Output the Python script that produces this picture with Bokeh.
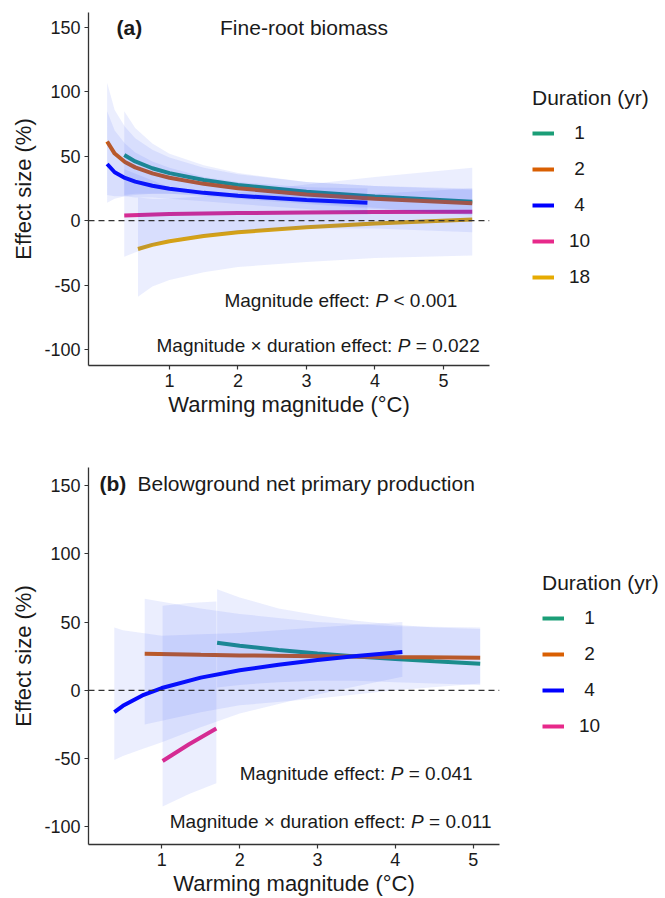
from bokeh.plotting import figure
from bokeh.models import Range1d, Span, Label, Legend, LegendItem, FixedTicker
from bokeh.layouts import column
from bokeh.embed import file_html
from bokeh.resources import INLINE

FONT = "Liberation Sans"

# ---------------- Panel (a): Fine-root biomass ----------------
a1_x = [0.34, 0.5, 0.75, 1.0, 1.5, 2.0, 3.0, 4.0, 5.42]
a1_y = [51.0, 46.0, 40.7, 36.9, 31.6, 27.8, 22.5, 18.7, 14.7]
a1_lo = [20, 21, 21, 21, 20, 18, 14, 10, 4]
a1_hi = [85, 72, 60, 52, 43, 37, 30, 27, 25]

a2_x = [0.09, 0.2, 0.35, 0.5, 0.75, 1.0, 1.5, 2.0, 3.0, 4.0, 5.42]
a2_y = [61.5, 52.1, 45.6, 41.4, 36.7, 33.3, 28.6, 25.2, 20.4, 17.1, 13.5]
a2_lo = [14, 17, 19, 20, 21, 21, 19, 17, 13, 9, 5]
a2_hi = [107, 86, 73, 64, 55, 49, 41, 36, 30, 27, 24]

a4_x = [0.09, 0.2, 0.35, 0.5, 0.75, 1.0, 1.5, 2.0, 3.0, 3.89]
a4_y = [44.0, 37.6, 33.2, 30.3, 27.1, 24.8, 21.6, 19.3, 16.0, 14.0]
a4_lo = [20, 19, 19, 18, 18, 17, 15, 13, 9, 5]
a4_hi = [85, 70, 60, 53, 46, 41, 34, 30, 26, 25]

a10_x = [0.34, 1.0, 2.0, 3.0, 4.0, 5.42]
a10_y = [4.0, 5.2, 5.9, 6.4, 6.7, 7.0]
a10_lo = [-28, -14, -8, -6, -6, -9]
a10_hi = [40, 26, 21, 20, 21, 25]

a18_x = [0.54, 0.75, 1.0, 1.5, 2.0, 3.0, 4.0, 5.42]
a18_y = [-22.0, -18.8, -15.9, -11.9, -9.0, -5.0, -2.1, 1.0]
a18_lo = [-59, -51, -46, -40, -36, -32, -29, -27]
a18_hi = [18, 17, 17, 19, 22, 28, 34, 41]

# ---------------- Panel (b): Belowground NPP ----------------
b1_x = [1.71, 2.0, 2.5, 3.0, 3.5, 4.0, 4.5, 5.09]
b1_y = [34.9, 32.7, 29.6, 27.0, 24.8, 23.0, 21.3, 19.5]
b1_lo = [2, 4, 6, 7, 7, 6, 5, 4]
b1_hi = [74, 68, 60, 55, 51, 48, 46, 45]

b2_x = [0.78, 1.5, 2.0, 3.0, 4.0, 5.09]
b2_y = [26.8, 26.0, 25.6, 25.0, 24.4, 23.9]
b2_lo = [-25, -16, -11, -6, 0, 5]
b2_hi = [67, 60, 56, 50, 47, 46]

b4_x = [0.39, 0.5, 0.75, 1.0, 1.5, 2.0, 2.5, 3.0, 3.5, 4.09]
b4_y = [-15.9, -11.3, -3.7, 1.7, 9.3, 14.7, 18.8, 22.2, 25.1, 28.0]
b4_lo = [-51, -48, -43, -38, -27, -17, -10, -3, 3, 10]
b4_hi = [46, 44, 42, 40, 41, 42, 44, 46, 48, 50]

b10_x = [1.01, 1.35, 1.70]
b10_y = [-51.7, -39.5, -28.0]
b10_lo = [-85, -76, -68]
b10_hi = [62, 64, 65]

durations_a = ["1", "2", "4", "10", "18"]
durations_b = ["1", "2", "4", "10"]
NBSP = "\u00a0"
legend_labels = {"1": NBSP + "1", "2": NBSP + "2", "4": NBSP + "4", "10": "10", "18": "18"}
colors = {"1": "#1B9E77", "2": "#D95F02", "4": "#0000FF", "10": "#E7298A", "18": "#E6AB02"}

x_ticks = [1, 2, 3, 4, 5]
y_ticks = [-100, -50, 0, 50, 100, 150]
y_tick_labels = ["-100", "-50", "0", "50", "100", "150"]

series_a = {
    "1": (a1_x, a1_y, a1_lo, a1_hi),
    "2": (a2_x, a2_y, a2_lo, a2_hi),
    "4": (a4_x, a4_y, a4_lo, a4_hi),
    "10": (a10_x, a10_y, a10_lo, a10_hi),
    "18": (a18_x, a18_y, a18_lo, a18_hi),
}
series_b = {
    "1": (b1_x, b1_y, b1_lo, b1_hi),
    "2": (b2_x, b2_y, b2_lo, b2_hi),
    "4": (b4_x, b4_y, b4_lo, b4_hi),
    "10": (b10_x, b10_y, b10_lo, b10_hi),
}

# Arial / Liberation Sans advance widths (per em)
W = {" ": .278, "M": .833, "a": .556, "g": .556, "n": .556, "i": .222, "t": .278,
     "u": .556, "d": .556, "e": .556, "f": .278, "c": .5, ":": .278, "×": .584,
     "r": .333, "o": .556, "P": .667, "<": .584, "=": .584, ".": .278}


def tw(s, size):
    return sum(W.get(ch, .556) for ch in s) * size


TXT = "#1a1a1a"
ANN = 19


def add_pvalue(p, x, y, head, tail):
    # head ends with a space, tail starts after one space (SVG collapses edge spaces)
    l1 = Label(x=x, y=y, text=head.rstrip(), text_font=FONT, text_font_size=f"{ANN}px",
               text_color=TXT, text_baseline="alphabetic")
    off = tw(head, ANN)
    l2 = Label(x=x, y=y, x_offset=off, text="P", text_font=FONT, text_font_size=f"{ANN}px",
               text_font_style="italic", text_color=TXT, text_baseline="alphabetic")
    off2 = off + tw("P", ANN) + tw(" ", ANN)
    l3 = Label(x=x, y=y, x_offset=off2, text=tail, text_font=FONT, text_font_size=f"{ANN}px",
               text_color=TXT, text_baseline="alphabetic")
    for l in (l1, l2, l3):
        p.add_layout(l)


def make_panel(series, durations, xr, yr, fw, fh, top, bottom, right,
               letter, title, title_pos, ann, legend_loc):
    p = figure(frame_width=fw, frame_height=fh, x_range=Range1d(*xr), y_range=Range1d(*yr),
               output_backend="svg", toolbar_location=None,
               min_border_left=88, min_border_right=right, min_border_top=top,
               min_border_bottom=bottom, background_fill_color="white",
               border_fill_color="white")
    p.outline_line_color = None
    p.xgrid.visible = False
    p.ygrid.visible = False
    for ax, ticks in ((p.xaxis[0], x_ticks), (p.yaxis[0], y_ticks)):
        ax.ticker = FixedTicker(ticks=ticks)
        ax.axis_line_color = "#333333"
        ax.axis_line_width = 1.3
        ax.major_tick_line_color = "#333333"
        ax.major_tick_line_width = 1.2
        ax.major_tick_out = 4
        ax.major_tick_in = 0
        ax.minor_tick_out = 0
        ax.minor_tick_in = 0
        ax.major_label_text_font = FONT
        ax.major_label_text_font_size = "18px"
        ax.major_label_text_color = TXT
        ax.axis_label_text_font = FONT
        ax.axis_label_text_font_size = "22px"
        ax.axis_label_text_font_style = "normal"
        ax.axis_label_text_color = TXT
    p.yaxis.major_label_overrides = {t: s for t, s in zip(y_ticks, y_tick_labels)}
    p.xaxis.axis_label = "Warming magnitude (°C)"
    p.yaxis.axis_label = "Effect size (%)"
    p.xaxis.major_label_standoff = 4
    p.xaxis.axis_label_standoff = 2
    p.yaxis.major_label_standoff = 4
    p.yaxis.axis_label_standoff = 5

    lines = {}
    for d in durations:
        x, y, lo, hi = series[d]
        lines[d] = p.line(x, y, line_color=colors[d], line_width=4)
    for d in durations:
        x, y, lo, hi = series[d]
        p.varea(x=x, y1=lo, y2=hi, fill_color="#2545F0", fill_alpha=0.09)

    p.add_layout(Span(location=0, dimension="width", line_color="#333333",
                      line_width=1.3, line_dash="6 4"))

    p.add_layout(Label(x=letter[0], y=letter[1], text=letter[2], text_font=FONT,
                       text_font_size="21px", text_font_style="bold", text_color=TXT,
                       text_baseline="alphabetic"))
    p.add_layout(Label(x=title_pos[0], y=title_pos[1], text=title, text_font=FONT,
                       text_font_size="21px", text_color=TXT, text_baseline="alphabetic",
                       text_align=title_pos[2]))
    for (x, y, head, tail) in ann:
        add_pvalue(p, x, y, head, tail)

    items = [LegendItem(label=legend_labels[d], renderers=[lines[d]]) for d in durations]
    leg = Legend(items=items, location=legend_loc, title="Duration (yr)",
                 title_text_font=FONT, title_text_font_size="21px", title_text_color=TXT,
                 title_text_font_style="normal", title_standoff=12,
                 label_text_font=FONT, label_text_font_size="19px", label_text_color=TXT,
                 glyph_width=22, glyph_height=20, label_height=20, spacing=14,
                 label_standoff=15, padding=0, margin=0,
                 border_line_color=None, background_fill_alpha=0)
    p.add_layout(leg, "right")
    return p


pa = make_panel(series_a, durations_a, (-0.182, 5.672), (-112.4, 161.6), 401, 353,
                12, 75, 176, (0.227, 150, "(a)"), "Fine-root biomass", (2.965, 150, "center"),
                [(1.803, -62.0, "Magnitude effect: ", "< 0.001"),
                 (0.811, -96.9, "Magnitude × duration effect: ", "= 0.022")],
                (43, 77))

pb = make_panel(series_b, durations_b, (0.058, 5.338), (-112.9, 163.2), 411, 377,
                27, 54, 166, (0.199, 151.5, "(b)"), "Belowground net primary production",
                (0.687, 151.5, "left"),
                [(2.001, -60.9, "Magnitude effect: ", "= 0.041"),
                 (1.102, -96.3, "Magnitude × duration effect: ", "= 0.011")],
                (43, 107))

layout = column(pa, pb, spacing=0)
open("out.html", "w").write(file_html(layout, INLINE))
